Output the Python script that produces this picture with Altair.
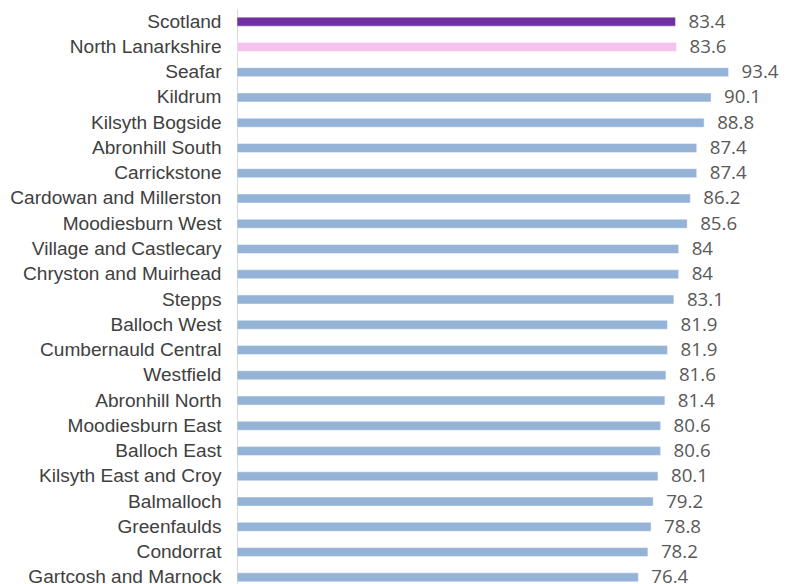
import altair as alt
import pandas as pd

areas = [
    "Scotland", "North Lanarkshire", "Seafar", "Kildrum", "Kilsyth Bogside",
    "Abronhill South", "Carrickstone", "Cardowan and Millerston",
    "Moodiesburn West", "Village and Castlecary", "Chryston and Muirhead",
    "Stepps", "Balloch West", "Cumbernauld Central", "Westfield",
    "Abronhill North", "Moodiesburn East", "Balloch East",
    "Kilsyth East and Croy", "Balmalloch", "Greenfaulds", "Condorrat",
    "Gartcosh and Marnock",
]
values = [
    83.4, 83.6, 93.4, 90.1, 88.8, 87.4, 87.4, 86.2, 85.6, 84, 84, 83.1,
    81.9, 81.9, 81.6, 81.4, 80.6, 80.6, 80.1, 79.2, 78.8, 78.2, 76.4,
]
groups = ["Scotland", "North Lanarkshire"] + ["Area"] * (len(areas) - 2)
labels = [f"{v:g}" for v in values]

df = pd.DataFrame({"area": areas, "value": values, "group": groups, "label": labels})

color_scale = alt.Scale(
    domain=["Scotland", "North Lanarkshire", "Area"],
    range=["#7030A0", "#F5C2EE", "#95B3D7"],
)

y_enc = alt.Y(
    "area:N",
    sort=areas,
    scale=alt.Scale(paddingInner=0, paddingOuter=0, round=False),
    axis=alt.Axis(
        title=None,
        ticks=False,
        domainColor="#D9D9D9",
        domainWidth=1,
        labelPadding=16,
        labelFontSize=19.1,
        labelFont="Liberation Sans",
        labelColor="#404040",
        labelLimit=0,
        grid=False,
    ),
)
x_enc = alt.X(
    "value:Q",
    scale=alt.Scale(domain=[0.8, 102.9], zero=False, clamp=True, nice=False),
    axis=None,
)

bars = alt.Chart(df).mark_bar(size=9, stroke="white", strokeOpacity=0.45, strokeWidth=1).encode(
    x=x_enc,
    y=y_enc,
    color=alt.Color("group:N", scale=color_scale, legend=None),
)

text = alt.Chart(df).mark_text(
    align="left", baseline="middle", dx=13, fontSize=18.7,
    font="Open Sans", color="#595959",
).encode(
    x=x_enc,
    y=y_enc,
    text="label:N",
)

chart = (
    alt.layer(bars, text)
    .properties(
        width=542,
        height=581,
        padding={"left": 229, "top": 1, "right": 0, "bottom": 0},
        autosize=alt.AutoSizeParams(type="none"),
        background="white",
    )
    .configure_view(strokeWidth=0, stroke="transparent")
)

chart.save("out.html", embed_options={"renderer": "svg", "actions": False})
